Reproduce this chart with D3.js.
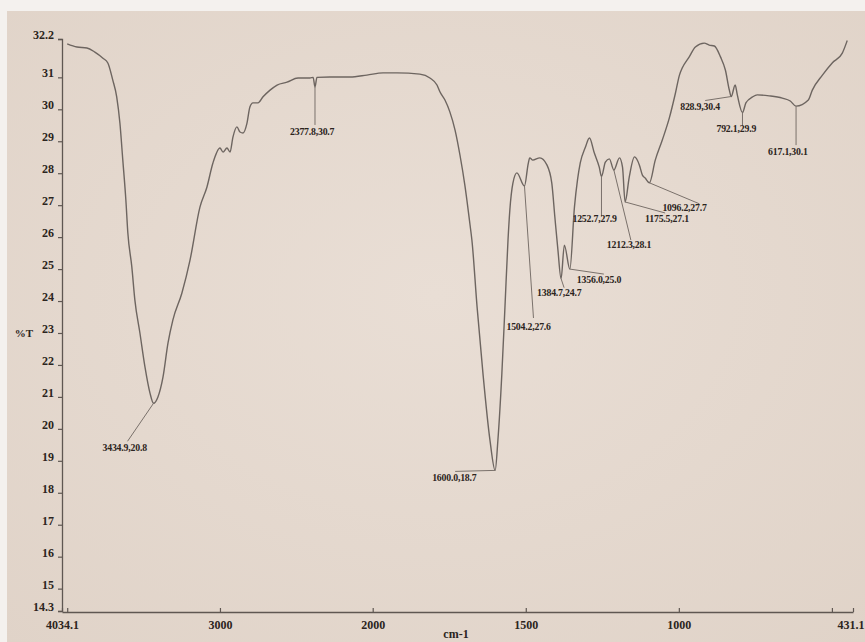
<!DOCTYPE html>
<html>
<head>
<meta charset="utf-8">
<script src="https://cdn.jsdelivr.net/npm/d3@7"></script>
<style>
  html, body { margin: 0; padding: 0; background: #ffffff; }
  svg { display: block; }
  text { font-family: "Liberation Serif", "DejaVu Serif", serif; font-weight: bold; fill: #2b2420; }
</style>
</head>
<body>
<svg id="chart" width="865" height="642"></svg>
<script>
// ---------- data ----------
const wavenumbers = [
  4000, 3936, 3871, 3819, 3766, 3734, 3702, 3676, 3655, 3636, 3616, 3603, 3577, 3557, 3524, 3491, 3458,
  3434.9, 3406, 3373, 3340, 3308, 3249, 3196, 3131, 3085, 3046, 3000, 2980, 2954, 2934, 2915, 2889, 2869,
  2849, 2823, 2804, 2784, 2751, 2718, 2672, 2626, 2561, 2489, 2411, 2390, 2377.8, 2365, 2280, 2149, 2038,
  1966, 1921, 1846, 1813, 1790, 1780, 1764, 1748, 1731, 1715, 1699, 1682, 1676, 1659, 1640, 1617,
  1600.0, 1591, 1578, 1568, 1558, 1552, 1542, 1529, 1504.2, 1492, 1487, 1477, 1454, 1431, 1415, 1405, 1395,
  1384.7, 1374, 1356.0, 1341, 1331, 1322, 1305, 1292, 1276, 1260, 1252.7, 1240, 1227, 1212.3, 1194, 1184,
  1175.5, 1162, 1145, 1129, 1119, 1110, 1096.2, 1077, 1054, 1031, 1011, 998, 989, 966, 946, 917, 901, 884,
  864, 848, 835, 828.9, 816, 809, 792.1, 781, 759, 744, 705, 662, 636, 617.1, 577, 564, 531, 499, 466, 450
];
const transmittance = [
  32.05, 31.95, 31.92, 31.79, 31.6, 31.45, 30.92, 30.39, 29.57, 28.41, 27.16, 26.13, 25.07, 24.03, 23.0, 21.94, 21.12,
  20.8, 21.0, 21.62, 22.69, 23.41, 24.25, 25.28, 26.94, 27.57, 28.32, 28.79, 28.66, 28.79, 28.66, 29.13, 29.45, 29.29,
  29.26, 29.57, 30.07, 30.2, 30.2, 30.39, 30.6, 30.76, 30.85, 30.98, 30.98, 31.0, 30.7, 31.0, 31.01, 31.01, 31.07,
  31.14, 31.14, 31.1, 30.98, 30.76, 30.54, 30.29, 29.92, 29.35, 28.57, 27.63, 26.38, 25.91, 23.81, 21.75, 19.65,
  18.7, 19.65, 21.75, 23.81, 25.91, 26.85, 27.69, 28.01, 27.6, 28.3, 28.48, 28.41, 28.48, 28.26, 27.69, 26.63, 25.6,
  24.7, 25.75, 25.0, 26.94, 27.79, 28.32, 28.82, 29.1, 28.63, 28.19, 27.9, 28.35, 28.45, 28.1, 28.48, 28.19,
  27.1, 27.88, 28.51, 28.26, 27.94, 27.85, 27.7, 28.41, 29.04, 29.73, 30.51, 31.07, 31.29, 31.64, 31.95, 32.07, 32.01, 31.98,
  31.64, 31.23, 30.6, 30.4, 30.76, 30.45, 29.9, 30.2, 30.39, 30.45, 30.42, 30.35, 30.26, 30.1, 30.29, 30.6, 31.07, 31.45, 31.76, 32.15
];

// peak annotations
const peakWavenumbers = [3434.9, 2377.8, 1600.0, 1504.2, 1384.7, 1356.0, 1252.7, 1212.3, 1175.5, 1096.2, 828.9, 792.1, 617.1];
const peakValues      = [20.8,   30.7,   18.7,   27.6,   24.7,   25.0,   27.9,   28.1,   27.1,   27.7,   30.4,  29.9,  30.1];
const peakLabels = peakWavenumbers.map((w, i) => w.toFixed(1) + "," + peakValues[i].toFixed(1));

// axis ticks
const yTickValues = [14.3, 15, 16, 17, 18, 19, 20, 21, 22, 23, 24, 25, 26, 27, 28, 29, 30, 31, 32.2];
const xTickValues = [4034.1, 4000, 3000, 2000, 1500, 1000, 500, 431.1];
const xTickLabels = ["4034.1", "", "3000", "2000", "1500", "1000", "", "431.1"];
const xDomain = [4034.1, 2000, 431.1];   // spectrometer scale changes at 2000 cm-1
const yDomain = [14.3, 32.2];
const xTitle = "cm-1";
const yTitle = "%T";

// ---------- layout (pixels) ----------
// label layout: [line dx, line dy, text dx, text dy] relative to the peak point
const labelLayout = [
  [-26, 38, -51, 48],
  [0, 38, -25, 48],
  [-40, 1, -63, 11],
  [9, 132, -18, 144],
  [3, 9, -24, 17],
  [34, 5, 7, 14],
  [0, 40, -29, 46],
  [17, 70, -7, 78],
  [40, 11, 20, 20],
  [50, 21, 13, 28],
  [-26, 4, -51, 13],
  [0, 13, -26, 20],
  [0, 39, -28, 49]
];

const svg = d3.select("#chart");

// paper background
svg.append("rect").attr("x", 0).attr("y", 0).attr("width", 865).attr("height", 642).attr("fill", "#f4f1ee");
const defs = svg.append("defs");
const grad = defs.append("radialGradient").attr("id", "paper").attr("cx", "50%").attr("cy", "45%").attr("r", "75%");
grad.append("stop").attr("offset", "0%").attr("stop-color", "#e9ded5");
grad.append("stop").attr("offset", "100%").attr("stop-color", "#e0d3c8");
svg.append("rect").attr("x", 7).attr("y", 11).attr("width", 858).attr("height", 631).attr("fill", "url(#paper)");

const x = d3.scaleLinear().domain(xDomain).range([62, 372.7, 853]);
const y = d3.scaleLinear().domain(yDomain).range([611, 39]);

const axisColor = "#5f5752";
const curveColor = "#6d6560";

// y axis
const yAxis = svg.append("g").attr("transform", "translate(62,0)")
  .call(d3.axisLeft(y).tickValues(yTickValues).tickSize(4).tickPadding(4)
        .tickFormat(d => (d === 14.3 || d === 32.2) ? d.toFixed(1) : d3.format("d")(d)));
yAxis.select(".domain").attr("stroke", axisColor).attr("stroke-width", 1.3);
yAxis.selectAll(".tick line").attr("stroke", axisColor).attr("stroke-width", 1.2);
yAxis.selectAll(".tick text").attr("font-size", 12).attr("dy", "-0.05em")
  .style("font-family", "Liberation Serif").style("font-weight", "bold").attr("fill", "#2b2420");

// x axis
const xAxis = svg.append("g").attr("transform", "translate(0,612)")
  .call(d3.axisBottom(x).tickValues(xTickValues).tickSizeInner(-4).tickSizeOuter(0).tickPadding(8)
        .tickFormat((d, i) => xTickLabels[i]));
xAxis.select(".domain").attr("stroke", axisColor).attr("stroke-width", 1.3);
xAxis.selectAll(".tick line").attr("stroke", axisColor).attr("stroke-width", 1.2);
xAxis.selectAll(".tick text").attr("font-size", 12)
  .style("font-family", "Liberation Serif").style("font-weight", "bold").attr("fill", "#2b2420");
// keep the last label inside the page
xAxis.selectAll(".tick text").filter(d => d === 431.1).attr("text-anchor", "end").attr("dx", 11);

// axis titles
svg.append("text").attr("x", 24).attr("y", 337).attr("text-anchor", "middle").attr("font-size", 11).text(yTitle);
svg.append("text").attr("x", 456).attr("y", 638).attr("text-anchor", "middle").attr("font-size", 12).text(xTitle);

// spectrum
const points = wavenumbers.map((w, i) => [w, transmittance[i]]);
const line = d3.line().x(d => x(d[0])).y(d => y(d[1])).curve(d3.curveMonotoneX);
svg.append("path").datum(points).attr("d", line)
  .attr("fill", "none").attr("stroke", curveColor).attr("stroke-width", 1.4).attr("stroke-linejoin", "round");

// peak labels
const ann = svg.append("g");
peakWavenumbers.forEach((w, i) => {
  const px = x(w), py = y(peakValues[i]);
  const L = labelLayout[i];
  ann.append("line").attr("x1", px).attr("y1", py).attr("x2", px + L[0]).attr("y2", py + L[1])
    .attr("stroke", "#7a716b").attr("stroke-width", 1);
  ann.append("text").attr("x", px + L[2]).attr("y", py + L[3]).attr("font-size", 9.8)
    .attr("letter-spacing", -0.2).text(peakLabels[i]);
});
</script>
</body>
</html>
